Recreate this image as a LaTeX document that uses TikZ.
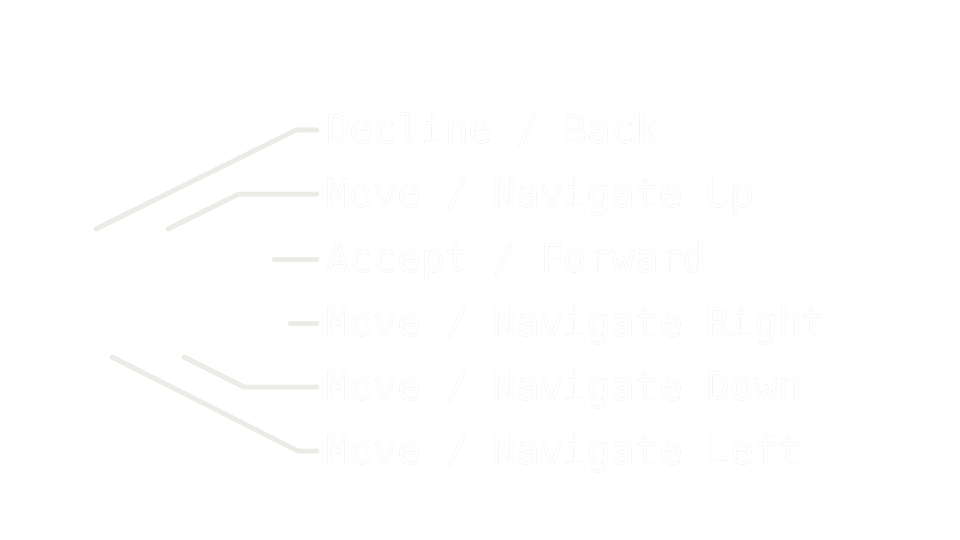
\documentclass[tikz,border=0pt]{standalone}
\usepackage{fontspec}
\usepackage[outline]{contour}
\newfontfamily\monofont{DejaVu Sans Mono}
\definecolor{leadgray}{HTML}{ECECE7}
\definecolor{textgray}{HTML}{D9D9D4}
\contourlength{0.4pt}
\newcommand{\outlined}[1]{\contour{textgray}{#1}}
\begin{document}
\begin{tikzpicture}[x=1pt,y=-1pt,
	lead/.style={draw=leadgray,line width=5pt,line cap=round,line join=round},
	lbl/.style={anchor=west,inner sep=0pt,text=white,text height=27pt,text depth=0pt,font=\monofont\fontsize{39.5}{39.5}\selectfont}]
	\useasboundingbox (0,0) rectangle (960,540);

	\node[lbl] (l0) at (326,130) {\outlined{Decline / Back}};
	\node[lbl] (l1) at (326,194) {\outlined{Move / Navigate Up}};
	\node[lbl] (l2) at (326,259) {\outlined{Accept / Forward}};
	\node[lbl] (l3) at (326,323) {\outlined{Move / Navigate Right}};
	\node[lbl] (l4) at (326,387) {\outlined{Move / Navigate Down}};
	\node[lbl] (l5) at (326,451) {\outlined{Move / Navigate Left}};

	\coordinate (p0) at (96,229);
	\coordinate (p1) at (168,229);
	\coordinate (p2) at (274,259);
	\coordinate (p3) at (290,323);
	\coordinate (p4) at (184,357);
	\coordinate (p5) at (112,357);

	\draw[lead] (p0) -- (296,130) -- ([xshift=-9pt]l0.west);
	\draw[lead] (p1) -- (239,194) -- ([xshift=-9pt]l1.west);
	\draw[lead] (p2) -- ([xshift=-9pt]l2.west);
	\draw[lead] (p3) -- ([xshift=-9pt]l3.west);
	\draw[lead] (p4) -- (244,387) -- ([xshift=-9pt]l4.west);
	\draw[lead] (p5) -- (298,451) -- ([xshift=-9pt]l5.west);
\end{tikzpicture}
\end{document}
